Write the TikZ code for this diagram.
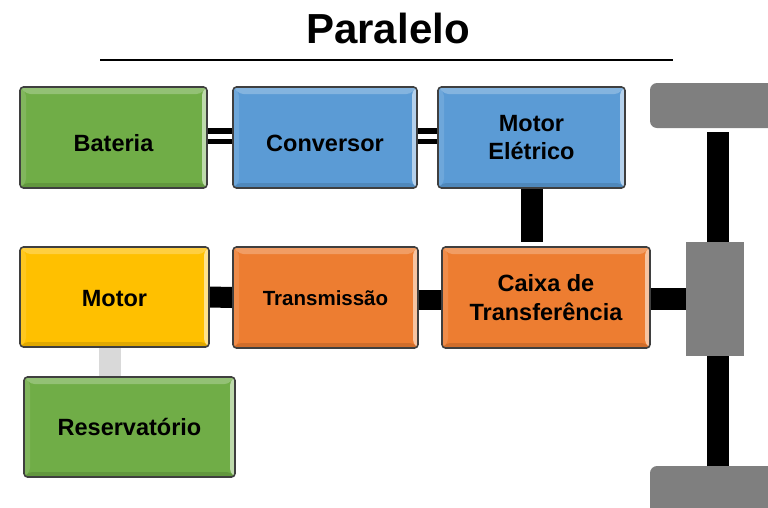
\documentclass[tikz,border=0pt]{standalone}
\usepackage{fontspec}
\setmainfont{Liberation Sans}
\usetikzlibrary{backgrounds}
\definecolor{cgreen}{HTML}{70AD47}
\definecolor{cblue}{HTML}{5B9BD5}
\definecolor{corange}{HTML}{ED7D31}
\definecolor{cyellow}{HTML}{FFC000}
\definecolor{cgray}{HTML}{7F7F7F}
\definecolor{clight}{HTML}{D9D9D9}
\definecolor{cborder}{HTML}{3F3F3F}
\newcommand{\pbb}{path picture bounding box}
\newcommand{\lowtext}[2]{\raisebox{-#1}[\height][\depth]{#2}}
\tikzset{
  blk/.style={draw=cborder, line width=1.6pt, rounded corners=3.5pt, fill=#1,
    inner sep=0pt, align=center, text=black,
    font=\fontsize{23.5}{28.5}\selectfont\bfseries,
    path picture={
      \fill[white,opacity=.25] (\pbb.north west) -- (\pbb.north east) -- ([shift={(-7pt,-7pt)}]\pbb.north east) -- ([shift={(7pt,-7pt)}]\pbb.north west) -- cycle;
      \fill[white,opacity=.12] (\pbb.north west) -- (\pbb.south west) -- ([shift={(6pt,6pt)}]\pbb.south west) -- ([shift={(6pt,-6pt)}]\pbb.north west) -- cycle;
      \fill[white,opacity=.55] (\pbb.north east) -- (\pbb.south east) -- ([shift={(-5pt,5pt)}]\pbb.south east) -- ([shift={(-5pt,-5pt)}]\pbb.north east) -- cycle;
      \fill[black,opacity=.12] (\pbb.south west) -- (\pbb.south east) -- ([shift={(-5pt,5pt)}]\pbb.south east) -- ([shift={(5pt,5pt)}]\pbb.south west) -- cycle;
    }},
  grayblk/.style={fill=cgray, draw=none, inner sep=0pt},
  bar/.style={draw=black, line width=#1},
  bar/.default=22pt,
  thinbar/.style={draw=black, line width=5.5pt},
}
\begin{document}
\begin{tikzpicture}[x=1pt,y=-1pt]
\clip (0,0) rectangle (768,507);

% title
\node[anchor=base, font=\fontsize{42}{48}\selectfont\bfseries] (title) at (388,43) {Paralelo};
\coordinate (lineL) at (100,60);
\coordinate (lineR) at (673,60);
\draw[line width=1.6pt] (lineL) -- (lineR);

% blocks
\node[blk=cgreen, minimum width=187pt, minimum height=101pt] (bat) at (113.5,137.5) {\lowtext{6pt}{Bateria}};
\node[blk=cblue, minimum width=184pt, minimum height=101pt] (conv) at (325,137.5) {\lowtext{6pt}{Conversor}};
\node[blk=cblue, minimum width=187pt, minimum height=101pt] (me) at (531.5,137.5) {Motor\\Elétrico};
\node[blk=cyellow, minimum width=189pt, minimum height=100pt] (mot) at (114.5,297) {\lowtext{1.5pt}{Motor}};
\node[blk=corange, minimum width=185pt, minimum height=101pt, font=\fontsize{20.5}{24}\selectfont\bfseries] (trans) at (325.5,297.5) {\lowtext{1pt}{Transmissão}};
\node[blk=corange, minimum width=208pt, minimum height=101pt] (caixa) at (546,297.5) {Caixa de\\Transferência};
\node[blk=cgreen, minimum width=211pt, minimum height=100pt] (res) at (129.5,427) {Reservatório};

% wheels and differential
\node[grayblk, minimum width=58pt, minimum height=114pt] (diff) at (715,299) {};
\node[grayblk, rounded corners=7pt, minimum width=150pt, minimum height=45pt] (wheelT) at (725,105.5) {};
\node[grayblk, rounded corners=7pt, minimum width=150pt, minimum height=70pt] (wheelB) at (725,501) {};

\begin{scope}[on background layer]
  \draw[thinbar] ([yshift=6.5pt]bat.east) -- ([yshift=6.5pt]conv.west);
  \draw[thinbar] ([yshift=-4pt]bat.east) -- ([yshift=-4pt]conv.west);
  \draw[thinbar] ([yshift=6.5pt]conv.east) -- ([yshift=6.5pt]me.west);
  \draw[thinbar] ([yshift=-4pt]conv.east) -- ([yshift=-4pt]me.west);
  \draw[bar=22pt] (me.south) -- ([yshift=4pt]me.south |- caixa.north);
  \draw[bar=21pt] (mot.east) -- (trans.west);
  \draw[bar=20pt] ([yshift=-2.5pt]trans.east) -- ([yshift=-2.5pt]caixa.west);
  \draw[bar=22pt] ([yshift=-1.5pt]caixa.east) -- ([yshift=-1.5pt]caixa.east -| diff.west);
  \draw[line width=22pt, clight] ([xshift=-4.5pt]mot.south) -- ([xshift=-4.5pt]mot.south |- res.north);
  \draw[bar=22pt] ([xshift=3pt]diff.north) -- ([xshift=3pt,yshift=-4pt]diff.north |- wheelT.south);
  \draw[bar=22pt] ([xshift=3pt]diff.south) -- ([xshift=3pt]diff.south |- wheelB.north);
\end{scope}
\end{tikzpicture}
\end{document}
